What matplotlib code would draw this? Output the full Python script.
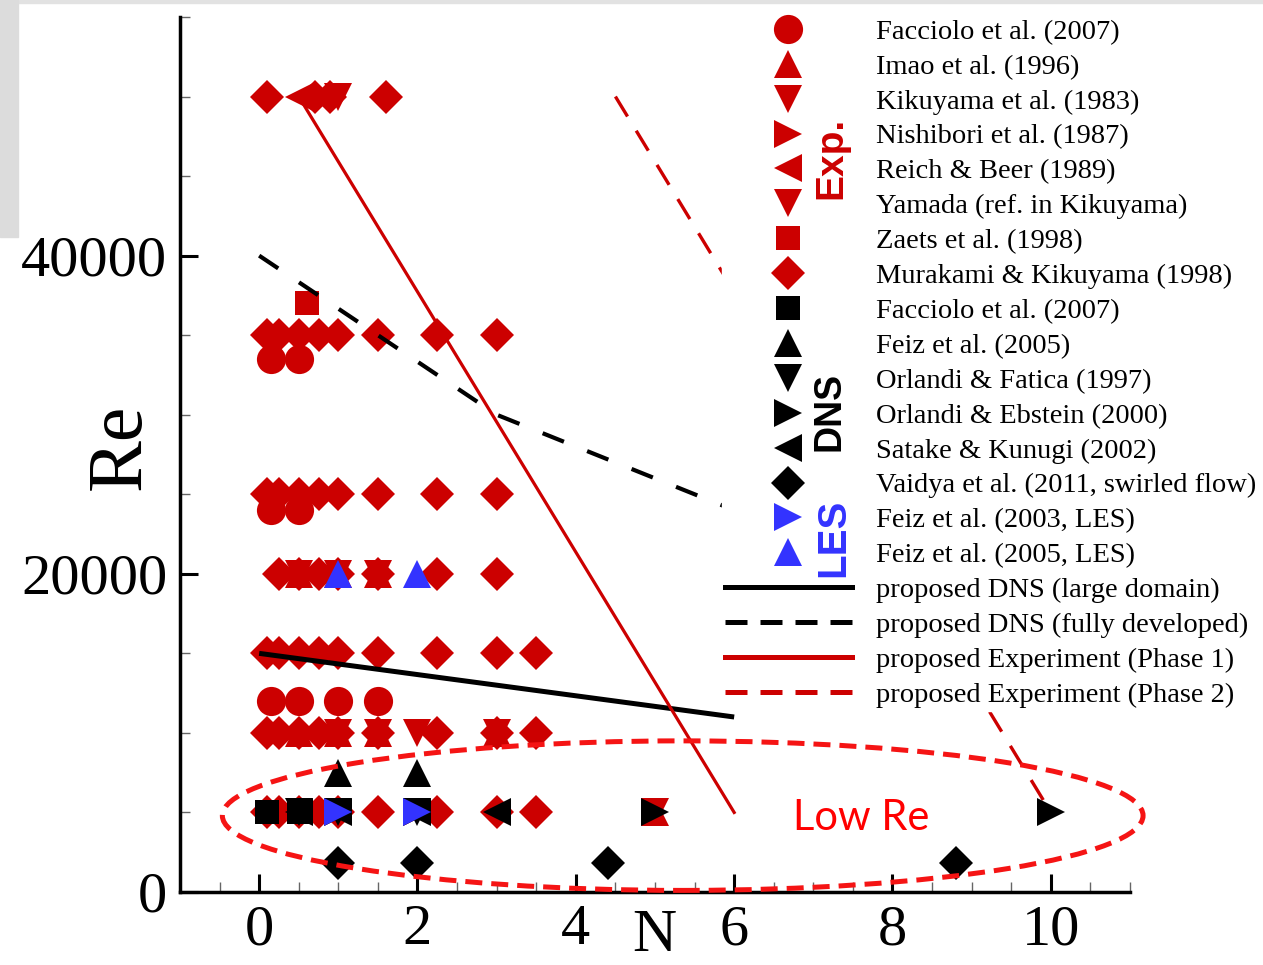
import matplotlib
matplotlib.use("Agg")
import matplotlib.pyplot as plt
from matplotlib.lines import Line2D
from matplotlib.patches import Ellipse, Rectangle
from matplotlib.ticker import MultipleLocator

# Experimental data (red)
facciolo_exp_n = [0.15, 0.5, 0.15, 0.5, 0.15, 0.5, 1.0, 1.5]
facciolo_exp_re = [33500, 33500, 24000, 24000, 12000, 12000, 12000, 12000]
imao_n = [0.5, 1.0, 1.5, 0.5, 1.0, 1.5, 3.0, 5.0]
imao_re = [20000, 20000, 20000, 10000, 10000, 10000, 10000, 5000]
kikuyama_n = [1.0, 2.0]
kikuyama_re = [50000, 10000]
nishibori_n = [1.0, 2.0]
nishibori_re = [5000, 5000]
reich_n = [0.5]
reich_re = [50000]
yamada_n = [0.5, 1.0, 1.5, 1.0, 1.5, 3.0, 5.0]
yamada_re = [20000, 20000, 20000, 10000, 10000, 10000, 5000]
zaets_n = [0.6]
zaets_re = [37000]
murakami_n = ([0.1, 0.7, 0.9, 1.6]
              + [0.1, 0.25, 0.5, 0.75, 1.0, 1.5, 2.25, 3.0] * 2
              + [0.25, 0.5, 0.75, 1.0, 1.5, 2.25, 3.0]
              + [0.1, 0.25, 0.5, 0.75, 1.0, 1.5, 2.25, 3.0, 3.5] * 3)
murakami_re = ([50000] * 4 + [35000] * 8 + [25000] * 8 + [20000] * 7
               + [15000] * 9 + [10000] * 9 + [5000] * 9)

# DNS data (black)
facciolo_dns_n = [0.1, 0.5]
facciolo_dns_re = [5000, 5000]
feiz05_n = [1.0, 2.0]
feiz05_re = [7500, 7500]
fatica_n = [0.5, 1.0, 2.0]
fatica_re = [5000, 5000, 5000]
ebstein_n = [1.0, 2.0, 5.0, 10.0]
ebstein_re = [5000, 5000, 5000, 5000]
satake_n = [0.5, 1.0, 2.0, 3.0]
satake_re = [5000, 5000, 5000, 5000]
vaidya_n = [1.0, 2.0, 4.4, 8.8]
vaidya_re = [1800, 1800, 1800, 1800]

# LES data (blue)
feiz03_les_n = [1.0, 2.0]
feiz03_les_re = [5000, 5000]
feiz05_les_n = [1.0, 2.0]
feiz05_les_re = [20000, 20000]

# proposed runs
dns_large_n = [0, 6]
dns_large_re = [15000, 11000]
dns_full_n = [0, 3, 6]
dns_full_re = [40000, 30000, 24000]
exp_p1_n = [0.5, 6]
exp_p1_re = [50000, 5000]
exp_p2_n = [4.5, 10]
exp_p2_re = [50000, 5000]

RED = "#cc0000"
BLUE = "#3333ff"
BLACK = "#000000"
SERIF = "Liberation Serif"

fig = plt.figure(figsize=(12.63, 9.65), dpi=100)
ax = fig.add_axes([180 / 1263, 1 - 892 / 965, 950 / 1263, 875 / 965])

# light grey strips along the top and top-left edge
fig.patches.append(Rectangle((0, 1 - 3 / 965), 1, 3 / 965, transform=fig.transFigure,
                             color="#e2e2e2", zorder=-5))
fig.patches.append(Rectangle((0, 1 - 237 / 965), 18 / 1263, 237 / 965,
                             transform=fig.transFigure, color="#dcdcdc", zorder=-5))

series = [
    (facciolo_exp_n, facciolo_exp_re, "o", 21, RED, "Facciolo et al. (2007)", 3),
    (imao_n, imao_re, "^", 20, RED, "Imao et al. (1996)", 3),
    (kikuyama_n, kikuyama_re, "v", 20, RED, "Kikuyama et al. (1983)", 3),
    (nishibori_n, nishibori_re, ">", 20, RED, "Nishibori et al. (1987)", 3),
    (reich_n, reich_re, "<", 20, RED, "Reich & Beer (1989)", 3),
    (yamada_n, yamada_re, "v", 20, RED, "Yamada (ref. in Kikuyama)", 3),
    (zaets_n, zaets_re, "s", 17, RED, "Zaets et al. (1998)", 3),
    (murakami_n, murakami_re, "D", 17.5, RED, "Murakami & Kikuyama (1998)", 3),
    (facciolo_dns_n, facciolo_dns_re, "s", 17, BLACK, "Facciolo et al. (2007)", 5),
    (feiz05_n, feiz05_re, "^", 20, BLACK, "Feiz et al. (2005)", 5),
    (fatica_n, fatica_re, "v", 20, BLACK, "Orlandi & Fatica (1997)", 5),
    (ebstein_n, ebstein_re, ">", 20, BLACK, "Orlandi & Ebstein (2000)", 5),
    (satake_n, satake_re, "<", 20, BLACK, "Satake & Kunugi (2002)", 5),
    (vaidya_n, vaidya_re, "D", 17.5, BLACK, "Vaidya et al. (2011, swirled flow)", 5),
    (feiz03_les_n, feiz03_les_re, ">", 20, BLUE, "Feiz et al. (2003, LES)", 6),
    (feiz05_les_n, feiz05_les_re, "^", 20, BLUE, "Feiz et al. (2005, LES)", 6),
]

handles = []
for n, re, marker, size, color, label, z in series:
    h, = ax.plot(n, re, linestyle="none", marker=marker, markersize=size,
                 color=color, markeredgewidth=0, label=label, zorder=z, clip_on=False)
    handles.append(h)

ax.plot(dns_large_n, dns_large_re, color=BLACK, lw=3.6, zorder=4, solid_capstyle="butt")
ax.plot(dns_full_n, dns_full_re, color=BLACK, lw=3.0, dashes=(5.5, 6), zorder=4)
ax.plot(exp_p1_n, exp_p1_re, color=RED, lw=2.3, zorder=4)
ax.plot(exp_p2_n, exp_p2_re, color=RED, lw=2.4, dashes=(7, 5), zorder=4)

line_handles = [
    Line2D([], [], color=BLACK, lw=3.6, label="proposed DNS (large domain)"),
    Line2D([], [], color=BLACK, lw=3.6, dashes=(4.4, 2.6), label="proposed DNS (fully developed)"),
    Line2D([], [], color=RED, lw=3.6, label="proposed Experiment (Phase 1)"),
    Line2D([], [], color=RED, lw=3.6, dashes=(4.4, 2.6), label="proposed Experiment (Phase 2)"),
]
handles += line_handles

# low-Re region
ax.add_patch(Ellipse((5.35, 4800), 11.63, 9400, fill=False, edgecolor="#f51414",
                     lw=3.6, linestyle=(0, (3.4, 1.8)), zorder=7, clip_on=False))
ax.text(7.6, 4650, "Low Re", color="#ff0000", fontsize=30, family="Lato",
        ha="center", va="center", zorder=8)

ax.set_xlim(-1, 11)
ax.set_ylim(0, 55000)
ax.xaxis.set_major_locator(MultipleLocator(2))
ax.xaxis.set_minor_locator(MultipleLocator(0.5))
ax.yaxis.set_major_locator(MultipleLocator(20000))
ax.yaxis.set_minor_locator(MultipleLocator(5000))
for side in ("top", "right"):
    ax.spines[side].set_visible(False)
for side in ("left", "bottom"):
    ax.spines[side].set_linewidth(2.5)
ax.tick_params(which="major", direction="in", length=13, width=2.2, pad=9,
               labelsize=42)
ax.tick_params(which="minor", direction="in", length=7, width=1.0, color="#666666")
for lab in ax.get_xticklabels() + ax.get_yticklabels():
    lab.set_family(SERIF)

ax.set_xlabel("N", fontsize=44, family=SERIF, va="baseline")
ax.xaxis.set_label_coords(0.499, (892 - 951) / 875)
ax.set_ylabel("Re", fontsize=56, family=SERIF)
ax.yaxis.set_label_coords(-0.024, 0.509)

leg = ax.legend(handles=handles, loc="upper left",
                bbox_to_anchor=(722 / 1263, 1 - 16 / 965), bbox_transform=fig.transFigure,
                prop={"family": SERIF, "size": 20.5}, numpoints=1, frameon=True,
                facecolor="white", edgecolor="white", framealpha=1, fancybox=False,
                borderpad=0.1, borderaxespad=0, handlelength=4.46, handletextpad=0.84,
                labelspacing=0.315)
leg.set_zorder(10)

# group labels beside the legend markers
fig.text(831 / 1263, 1 - 158 / 965, "Exp.", color=RED, fontsize=28, fontweight="bold",
         family="Liberation Sans", rotation=90, ha="center", va="center", zorder=12)
fig.text(830 / 1263, 1 - 411 / 965, "DNS", color=BLACK, fontsize=27, fontweight="bold",
         family="Liberation Sans", rotation=90, ha="center", va="center", zorder=12)
fig.text(833 / 1263, 1 - 538 / 965, "LES", color=BLUE, fontsize=29, fontweight="bold",
         family="Liberation Sans", rotation=90, ha="center", va="center", zorder=12)

fig.savefig("out.png", dpi=100)
